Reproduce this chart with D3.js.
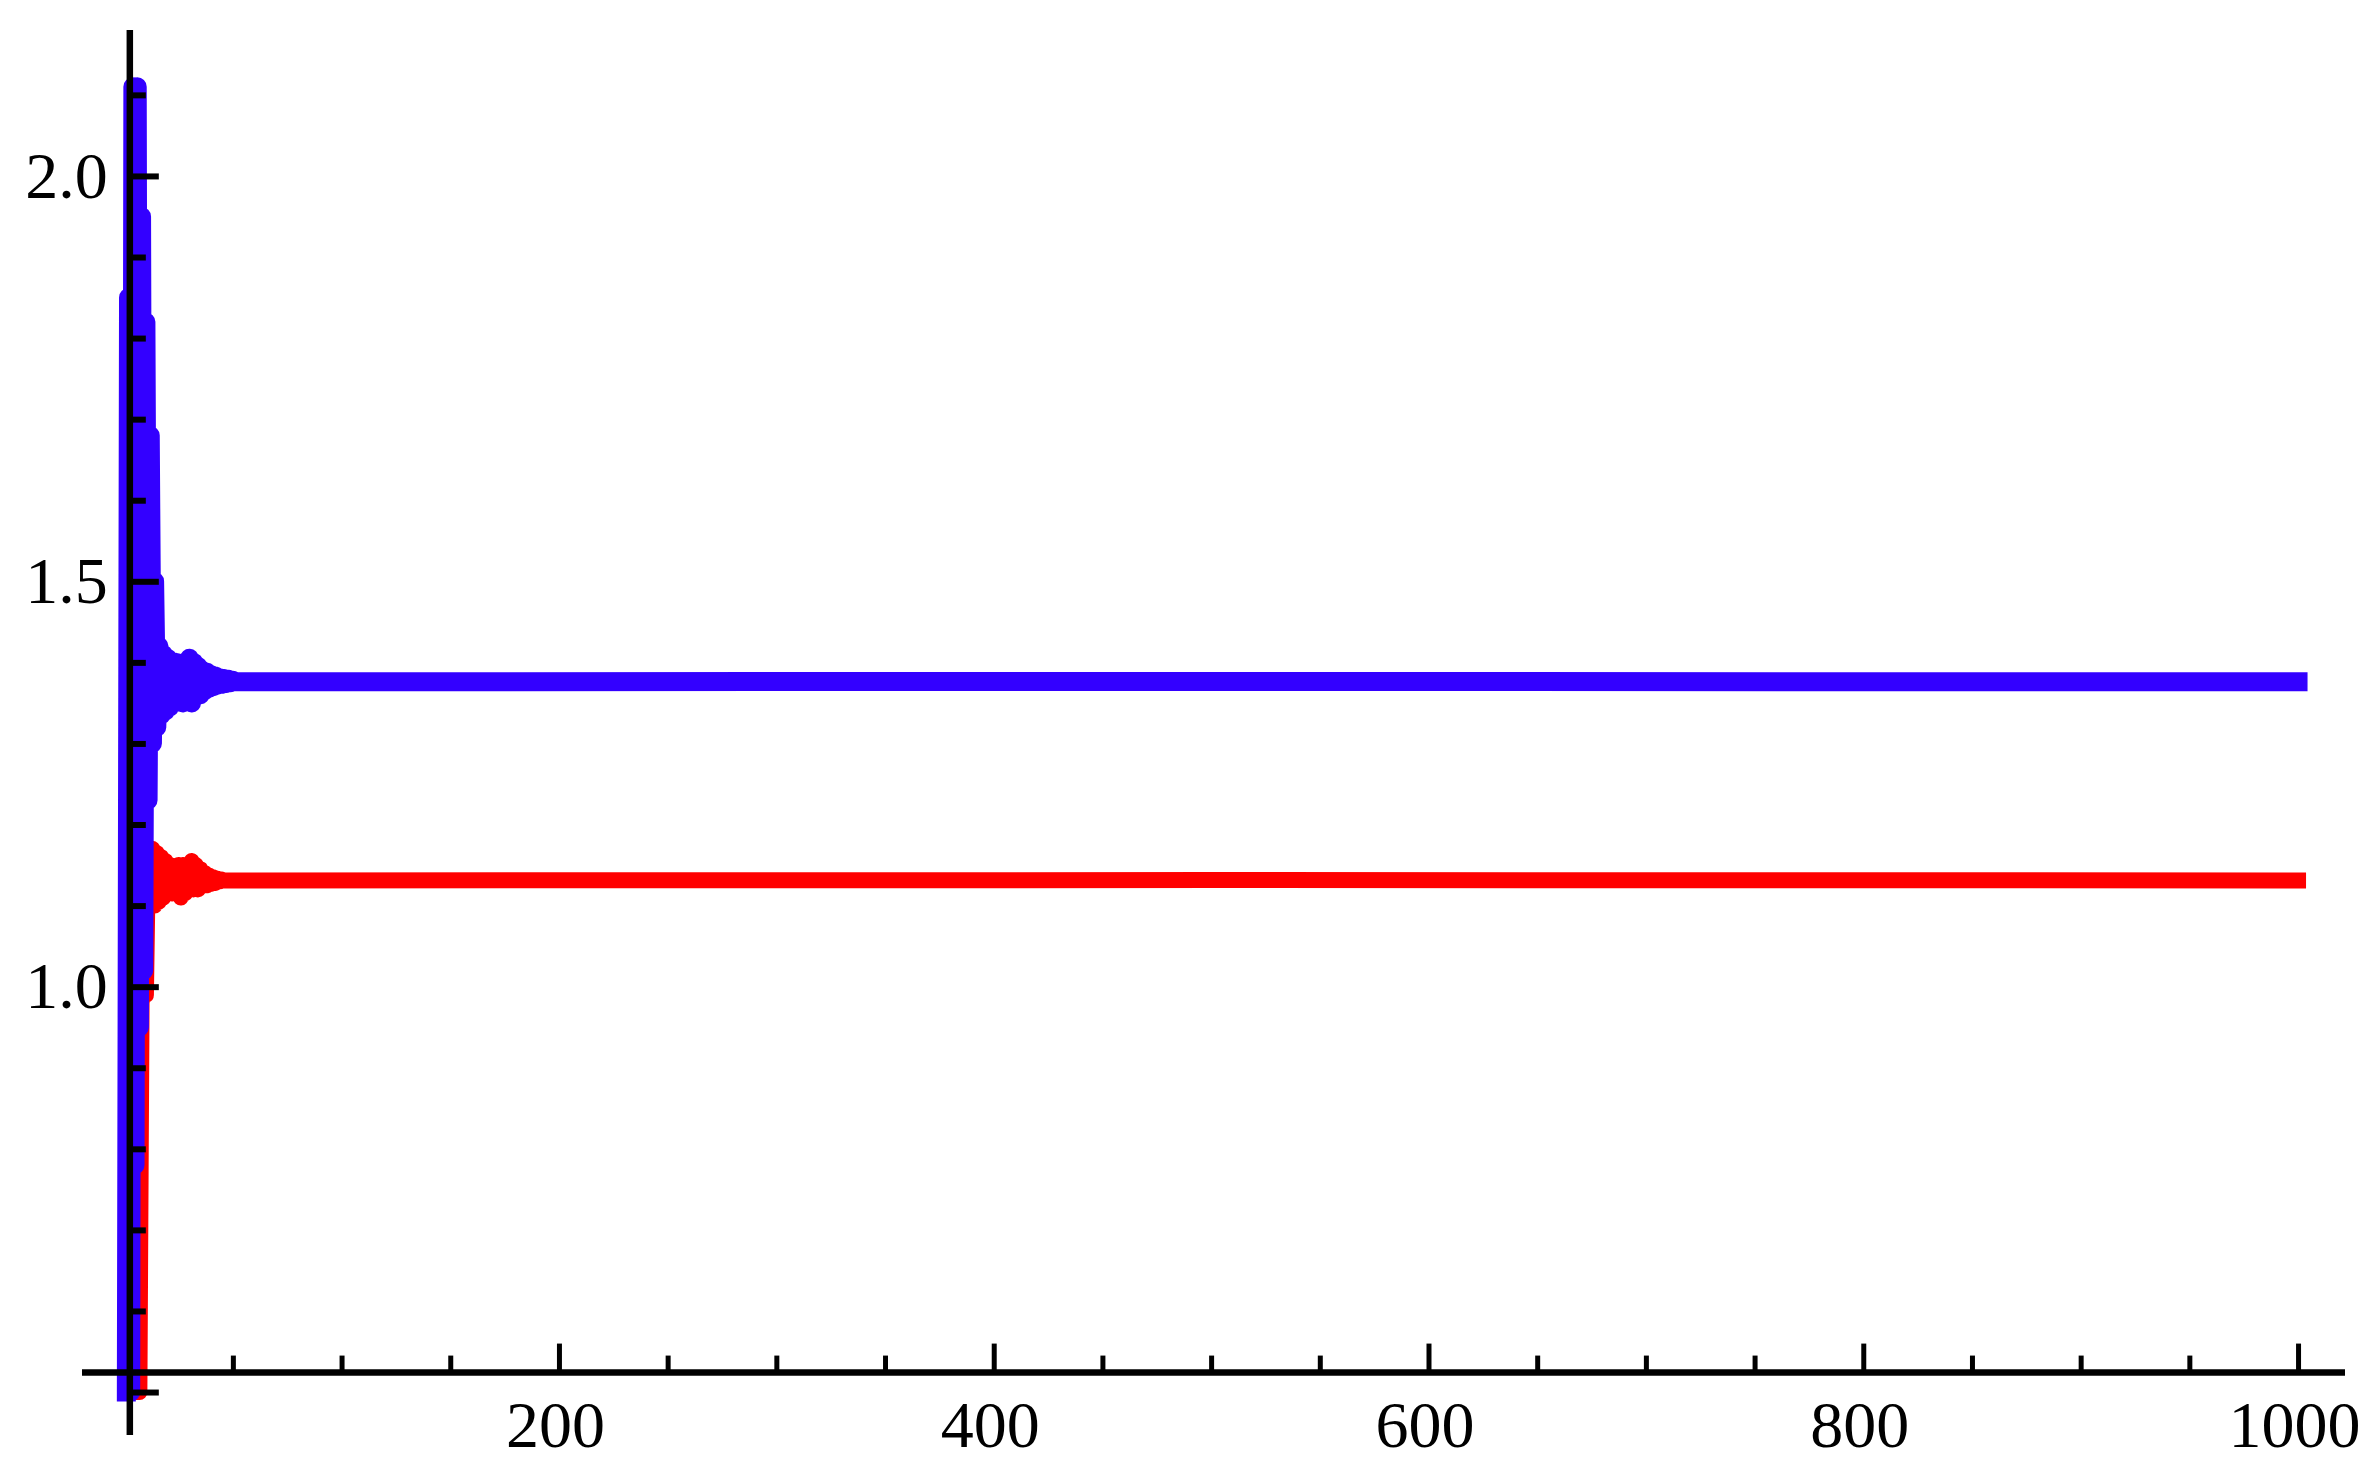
<!DOCTYPE html>
<html><head><meta charset="utf-8">
<script src="https://cdn.jsdelivr.net/npm/d3@7"></script>
<style>html,body{margin:0;padding:0;background:#fff;} svg{display:block;}</style>
</head><body>
<svg id="chart" width="2375" height="1470"></svg>
<script>
// Early (transient) values, one per step starting at n = 1
const blueEarly = [0.50, 1.85, 0.50, 2.11, 0.78, 2.11, 0.95, 1.95, 1.02, 1.82,
  1.23, 1.68, 1.30, 1.50, 1.32, 1.42, 1.335, 1.41, 1.34, 1.405,
  1.345, 1.40, 1.35, 1.40, 1.355, 1.395, 1.35, 1.40, 1.355, 1.405,
  1.35, 1.40, 1.36, 1.395, 1.36, 1.39, 1.365, 1.388, 1.368, 1.385,
  1.37, 1.383, 1.372, 1.381, 1.373, 1.38, 1.374, 1.379, 1.375, 1.378, 1.376];
const redEarly = [0.52, 0.60, 0.52, 0.62, 0.50, 0.60, 0.50, 0.98, 1.00, 0.99,
  1.17, 1.10, 1.17, 1.10, 1.165, 1.105, 1.16, 1.11, 1.155, 1.115,
  1.15, 1.115, 1.145, 1.12, 1.15, 1.11, 1.15, 1.115, 1.145, 1.12,
  1.155, 1.12, 1.15, 1.12, 1.145, 1.125, 1.14, 1.125, 1.137, 1.127,
  1.135, 1.128, 1.133, 1.13, 1.132, 1.131];
// Steady-state part: [step, value]
const blueTail = [[60, 1.376], [500, 1.3765], [1000, 1.376]];
const redTail = [[60, 1.131], [500, 1.1315], [1000, 1.131]];

const xMajorTicks = [200, 400, 600, 800, 1000];
const xMinorTicks = [50, 100, 150, 250, 300, 350, 450, 500, 550, 650, 700, 750, 850, 900, 950];
const yMajorTicks = [0.5, 1.0, 1.5, 2.0];
const yLabelTicks = [1.0, 1.5, 2.0];
const yMinorTicks = [0.6, 0.7, 0.8, 0.9, 1.1, 1.2, 1.3, 1.4, 1.6, 1.7, 1.8, 1.9, 2.1];

const svg = d3.select("#chart");
svg.append("rect").attr("width", 2375).attr("height", 1470).attr("fill", "#fff");

const x = d3.scaleLinear().domain([-19.4, 1021.6]).range([82, 2345]);
const y = d3.scaleLinear().domain([0.447, 2.18]).range([1435, 30]);
const originX = 2.6, originY = 0.524;

const toPts = (early, tail) => early.map((v, i) => [i + 1, v]).concat(tail);
const line = d3.line().x(d => x(d[0])).y(d => y(d[1]));

svg.append("path").datum(toPts(redEarly, redTail))
  .attr("d", line).attr("fill", "none").attr("stroke", "#ff0000")
  .attr("stroke-width", 16).attr("stroke-linejoin", "round").attr("stroke-linecap", "square");
svg.append("path").datum(toPts(blueEarly, blueTail))
  .attr("d", line).attr("fill", "none").attr("stroke", "#3300ff")
  .attr("stroke-width", 19).attr("stroke-linejoin", "round").attr("stroke-linecap", "square");

const font = "'Liberation Serif', 'Times New Roman', serif";
function styleAxis(g, w) {
  g.select(".domain").remove();
  g.selectAll(".tick line").attr("stroke", "#000").attr("stroke-width", w);
  g.selectAll("text").attr("font-family", font).attr("font-size", 66).attr("fill", "#000");
}

// Axis lines
svg.append("line").attr("x1", x(originX)).attr("x2", x(originX)).attr("y1", 30).attr("y2", 1435)
  .attr("stroke", "#000").attr("stroke-width", 6.5);
svg.append("line").attr("x1", 82).attr("x2", 2345).attr("y1", y(originY)).attr("y2", y(originY))
  .attr("stroke", "#000").attr("stroke-width", 6.5);

// Y ticks
const gy = svg.append("g").attr("transform", `translate(${x(originX)},0)`);
gy.append("g").call(d3.axisRight(y).tickValues(yMajorTicks).tickSize(29).tickFormat("")).call(g => styleAxis(g, 6));
gy.append("g").call(d3.axisRight(y).tickValues(yMinorTicks).tickSize(16).tickFormat("")).call(g => styleAxis(g, 6));
gy.append("g").call(d3.axisLeft(y).tickValues(yLabelTicks).tickSize(0).tickPadding(22).tickFormat(d3.format(".1f"))).call(g => styleAxis(g, 0));

// X ticks
const gx = svg.append("g").attr("transform", `translate(0,${y(originY)})`);
gx.append("g").call(d3.axisTop(x).tickValues(xMajorTicks).tickSize(29).tickFormat("")).call(g => styleAxis(g, 5));
gx.append("g").call(d3.axisTop(x).tickValues(xMinorTicks).tickSize(17).tickFormat("")).call(g => styleAxis(g, 5));
gx.append("g").call(d3.axisBottom(x).tickValues(xMajorTicks).tickSize(0).tickPadding(28).tickFormat(d3.format("d")))
  .call(g => { styleAxis(g, 0); g.selectAll("text").attr("dx", -4); });
</script>
</body></html>
